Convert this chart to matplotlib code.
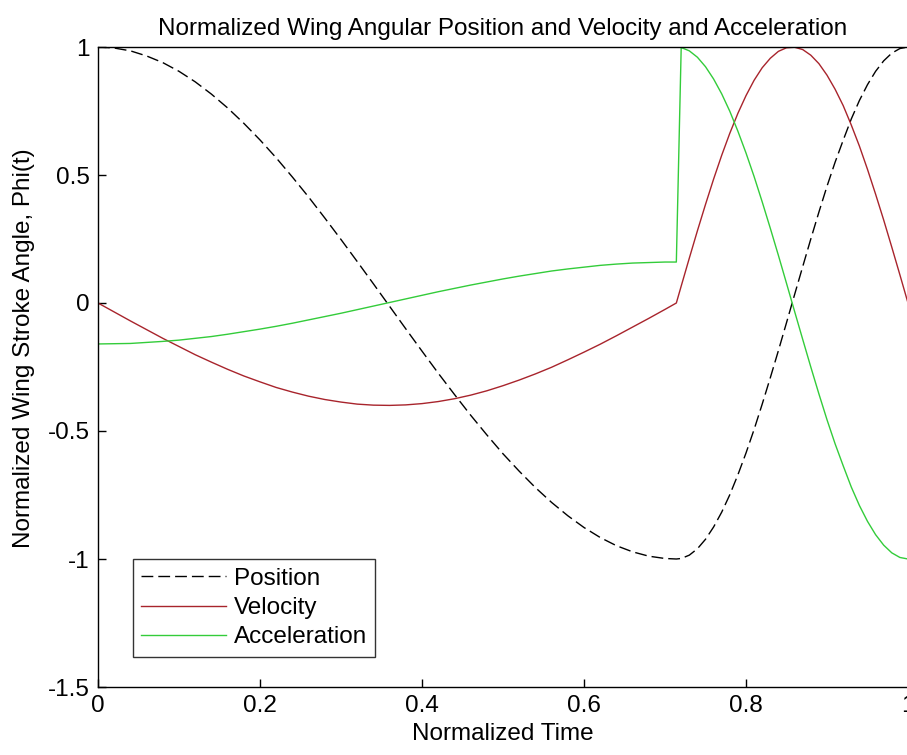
import matplotlib
matplotlib.use("Agg")
import matplotlib.pyplot as plt

plt.rcParams["font.family"] = ["Liberation Sans", "DejaVu Sans"]

# Normalized stroke cycle: downstroke ends near t = 0.714, upstroke runs to t = 1
time = [0.00, 0.02, 0.04, 0.06, 0.08, 0.10, 0.12, 0.14, 0.16, 0.18,
        0.20, 0.22, 0.24, 0.26, 0.28, 0.30, 0.32, 0.34, 0.36, 0.38,
        0.40, 0.42, 0.44, 0.46, 0.48, 0.50, 0.52, 0.54, 0.56, 0.58,
        0.60, 0.62, 0.64, 0.66, 0.68, 0.70, 0.714,
        0.72, 0.73, 0.74, 0.75, 0.76, 0.77, 0.78, 0.79, 0.80, 0.81,
        0.82, 0.83, 0.84, 0.85, 0.86, 0.87, 0.88, 0.89, 0.90, 0.91,
        0.92, 0.93, 0.94, 0.95, 0.96, 0.97, 0.98, 0.99, 1.00]

position = [1.000, 0.996, 0.985, 0.965, 0.939, 0.905, 0.864, 0.816, 0.762, 0.702,
            0.637, 0.567, 0.492, 0.414, 0.332, 0.248, 0.162, 0.075, -0.013, -0.101,
            -0.188, -0.274, -0.357, -0.438, -0.515, -0.589, -0.657, -0.721, -0.779, -0.831,
            -0.877, -0.916, -0.948, -0.972, -0.989, -0.998, -1.000,
            -0.998, -0.985, -0.960, -0.923, -0.875, -0.817, -0.749, -0.671, -0.586, -0.494,
            -0.395, -0.292, -0.186, -0.077, 0.033, 0.142, 0.250, 0.355, 0.456, 0.550,
            0.636, 0.719, 0.791, 0.853, 0.905, 0.946, 0.976, 0.994, 1.000]

velocity = [0.000, -0.035, -0.070, -0.104, -0.138, -0.170, -0.202, -0.231, -0.259, -0.285,
            -0.308, -0.330, -0.348, -0.364, -0.377, -0.387, -0.395, -0.399, -0.400, -0.398,
            -0.393, -0.385, -0.374, -0.360, -0.343, -0.323, -0.301, -0.277, -0.251, -0.222,
            -0.192, -0.161, -0.128, -0.094, -0.060, -0.025, 0.000,
            0.066, 0.175, 0.282, 0.385, 0.484, 0.577, 0.663, 0.741, 0.810, 0.870,
            0.919, 0.956, 0.983, 0.997, 0.999, 0.990, 0.968, 0.935, 0.890, 0.835,
            0.771, 0.695, 0.613, 0.522, 0.425, 0.324, 0.218, 0.110, 0.000]

acceleration = [-0.160, -0.159, -0.158, -0.154, -0.150, -0.145, -0.138, -0.131, -0.122, -0.112,
                -0.102, -0.091, -0.079, -0.066, -0.053, -0.040, -0.026, -0.012, 0.002, 0.016,
                0.030, 0.044, 0.057, 0.070, 0.082, 0.094, 0.105, 0.115, 0.125, 0.133,
                0.140, 0.147, 0.152, 0.156, 0.158, 0.160, 0.160,
                0.998, 0.985, 0.960, 0.923, 0.875, 0.817, 0.749, 0.671, 0.586, 0.494,
                0.395, 0.292, 0.186, 0.077, -0.033, -0.142, -0.250, -0.355, -0.456, -0.550,
                -0.636, -0.719, -0.791, -0.853, -0.905, -0.946, -0.976, -0.994, -1.000]

x_ticks = [0, 0.2, 0.4, 0.6, 0.8, 1]
x_tick_labels = ["0", "0.2", "0.4", "0.6", "0.8", "1"]
y_ticks = [-1.5, -1, -0.5, 0, 0.5, 1]
y_tick_labels = ["-1.5", "-1", "-0.5", "0", "0.5", "1"]

fs = 17.5

fig = plt.figure(figsize=(9.07, 7.55), dpi=100)
ax = fig.add_axes([98 / 907, 68 / 755, 810 / 907, 640 / 755])

ax.plot(time, position, color="black", lw=1.0, linestyle=(0, (8.5, 3.6)),
        label="Position")
ax.plot(time, velocity, color="#a8242c", lw=1.0, label="Velocity")
ax.plot(time, acceleration, color="#33cc3a", lw=1.0, label="Acceleration")

ax.set_xlim(0, 1)
ax.set_ylim(-1.5, 1)
ax.set_xticks(x_ticks)
ax.set_xticklabels(x_tick_labels)
ax.set_yticks(y_ticks)
ax.set_yticklabels(y_tick_labels)
ax.tick_params(direction="in", length=6, width=1, labelsize=fs, pad=6)

for sp in ax.spines.values():
    sp.set_linewidth(1.0)

ax.set_title("Normalized Wing Angular Position and Velocity and Acceleration",
             fontsize=fs, pad=9)
ax.set_xlabel("Normalized Time", fontsize=fs, labelpad=4)
ax.set_ylabel("Normalized Wing Stroke Angle, Phi(t)", fontsize=fs)
ax.yaxis.set_label_coords(-0.078, 0.53)

leg = ax.legend(loc="lower left", bbox_to_anchor=(0.043, 0.047),
                fontsize=fs, frameon=True, fancybox=False, handlelength=3.5,
                handletextpad=0.3, borderpad=0.35, labelspacing=0.3,
                borderaxespad=0)
leg.get_frame().set_edgecolor("black")
leg.get_frame().set_linewidth(1.0)

fig.savefig("out.png", dpi=100, facecolor="white")
